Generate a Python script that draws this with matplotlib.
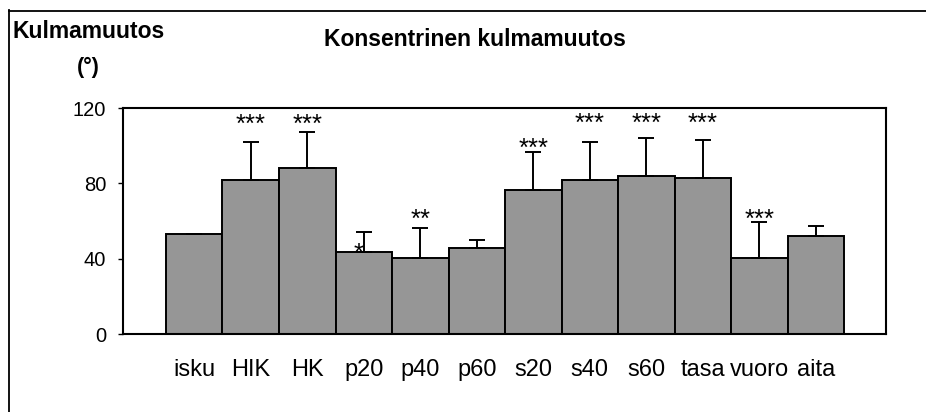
import matplotlib
matplotlib.use("Agg")
import matplotlib.pyplot as plt
from matplotlib.lines import Line2D
import numpy as np

plt.rcParams['font.family'] = ['Liberation Sans', 'DejaVu Sans']

categories = ["isku", "HIK", "HK", "p20", "p40", "p60", "s20", "s40", "s60", "tasa", "vuoro", "aita"]
values = [53.1, 81.6, 88.2, 43.5, 40.4, 45.7, 76.5, 81.6, 83.9, 82.8, 40.4, 52.0]
errors = [0.0, 20.2, 18.9, 10.5, 16.0, 4.2, 20.2, 20.2, 20.2, 20.2, 18.9, 5.4]
stars = ["", "***", "***", "*", "**", "", "***", "***", "***", "***", "***", ""]
star_y = [None, 115.2, 115.2, 46.4, 64.4, None, 102.1, 115.6, 115.6, 115.6, 64.4, None]
yticks = [0, 40, 80, 120]

W, H = 926, 412
fig = plt.figure(figsize=(W / 100, H / 100), dpi=100)
ax = fig.add_axes([123 / W, 1 - 334 / H, (886 - 123) / W, (334 - 108) / H])

x = np.arange(len(categories))
ax.bar(x, values, width=1.0, color="#969696", edgecolor="black", linewidth=1.4, zorder=2)
ax.errorbar(x, values, yerr=[np.zeros(len(errors)), errors], fmt="none",
            ecolor="black", elinewidth=1.4, capsize=5.8, capthick=1.4, zorder=3)

for xi, s, sy in zip(x, stars, star_y):
    if s:
        dx = -3.5 if s == "*" else 0
        ax.annotate(s, (xi, sy), xytext=(dx, -10.5), textcoords="offset points",
                    ha="center", va="baseline", fontsize=18.5, zorder=4)

ax.set_xlim(-1.26, 12.24)
ax.set_ylim(0, 120)
ax.set_yticks(yticks)
ax.set_yticklabels([str(t) for t in yticks], fontsize=14.5)
ax.tick_params(axis="y", direction="out", length=3.6, width=1, pad=8.6)
ax.set_xticks(x)
ax.set_xticklabels(categories, fontsize=17)
ax.tick_params(axis="x", length=0, pad=18)
for sp in ax.spines.values():
    sp.set_linewidth(1.5)
    sp.set_color("black")

fig.text(475 / W, 1 - 40 / H, "Konsentrinen kulmamuutos", ha="center", va="center",
         fontsize=16.5, fontweight="bold")
fig.text(12 / W, 1 - 31 / H, "Kulmamuutos", ha="left", va="center",
         fontsize=16.5, fontweight="bold")
fig.text(88 / W, 1 - 67 / H, "(°)", ha="center", va="center",
         fontsize=15.5, fontweight="bold")

# outer frame of the chart area
fig.add_artist(Line2D([8.5 / W, 8.5 / W], [0, 1 - 10 / H], transform=fig.transFigure,
                      color="black", linewidth=1.3))
fig.add_artist(Line2D([8.5 / W, 1], [1 - 10.5 / H, 1 - 10.5 / H], transform=fig.transFigure,
                      color="black", linewidth=1.3))

fig.savefig("out.png", dpi=100)
